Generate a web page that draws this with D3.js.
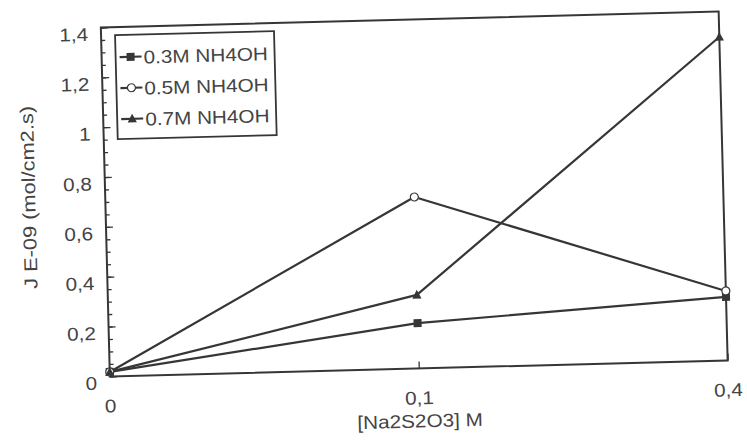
<!DOCTYPE html>
<html>
<head>
<meta charset="utf-8">
<script src="https://cdn.jsdelivr.net/npm/d3@7"></script>
<style>
  html, body { margin: 0; padding: 0; background: #ffffff; }
  svg { display: block; }
  text { font-family: "Liberation Sans", Arial, Helvetica, sans-serif; fill: #444444; }
</style>
</head>
<body>
<svg id="chart" width="747" height="442"></svg>
<script>
// Sodium thiosulfate concentration (categories on the x axis)
const concentrations = [0, 0.1, 0.4];
const xTickLabels = ["0", "0,1", "0,4"];

// Flux J (x 1E-09 mol/cm2.s) for each ammonia concentration
const series03 = [0.018, 0.182, 0.255];
const series05 = [0.018, 0.688, 0.279];
const series07 = [0.018, 0.295, 1.298];

const seriesNames = ["0.3M NH4OH", "0.5M NH4OH", "0.7M NH4OH"];
const seriesMarkers = ["square", "circle", "triangle"];

const yMajorTicks = [0, 0.2, 0.4, 0.6, 0.8, 1, 1.2, 1.4];
const yMinorTicks = d3.range(0, 29).map(i => i * 0.05);

const xTitle = "[Na2S2O3] M";
const yTitle = "J E-09 (mol/cm2.s)";

// layout
const plot = { left: 105.25, top: 19.5, width: 618, height: 349 };
const tilt = -1.48;               // the whole figure sits slightly askew
const cx = plot.left + plot.width / 2, cy = plot.top + plot.height / 2;
const ink = "#363636";
const fontSize = 18.5;
const stretch = 1.12;             // wide lettering

const svg = d3.select("#chart");
const g = svg.append("g").attr("transform", `rotate(${tilt},${cx},${cy})`);

const x = d3.scalePoint().domain(concentrations).range([plot.left, plot.left + plot.width]).padding(0);
const y = d3.scaleLinear().domain([0, 1.4]).range([plot.top + plot.height, plot.top]);

// frame
g.append("rect")
  .attr("x", plot.left).attr("y", plot.top)
  .attr("width", plot.width).attr("height", plot.height)
  .attr("fill", "none").attr("stroke", ink).attr("stroke-width", 2);

// y axis ticks (pointing into the plot)
const yMinor = g.append("g").attr("transform", `translate(${plot.left},0)`)
  .call(d3.axisLeft(y).tickValues(yMinorTicks).tickSize(-4).tickFormat(""));
const yMajor = g.append("g").attr("transform", `translate(${plot.left},0)`)
  .call(d3.axisLeft(y).tickValues(yMajorTicks).tickSize(-7).tickFormat(""));
[yMinor, yMajor].forEach(ax => {
  ax.select(".domain").remove();
  ax.selectAll("line").attr("stroke", ink).attr("stroke-width", 1.3);
});

// x axis ticks
const xAxis = g.append("g").attr("transform", `translate(0,${plot.top + plot.height})`)
  .call(d3.axisBottom(x).tickSize(-7).tickFormat(""));
xAxis.select(".domain").remove();
xAxis.selectAll("line").attr("stroke", ink).attr("stroke-width", 1.3);

const fmt = d => d3.format("~g")(d).replace(".", ",");

// y tick labels
g.append("g").selectAll("text").data(yMajorTicks).join("text")
  .attr("transform", d => `translate(${plot.left - 13},${y(d) + 13}) scale(${stretch},1)`)
  .attr("text-anchor", "end")
  .attr("font-size", fontSize)
  .text(fmt);

// x tick labels
g.append("g").selectAll("text").data(concentrations).join("text")
  .attr("transform", (d) => `translate(${x(d)},${plot.top + plot.height + 36}) scale(${stretch},1)`)
  .attr("text-anchor", "middle")
  .attr("font-size", fontSize)
  .text((d, i) => xTickLabels[i]);

// axis titles
g.append("text")
  .attr("transform", `translate(${cx},${plot.top + plot.height + 59}) scale(${stretch},1)`)
  .attr("text-anchor", "middle").attr("font-size", fontSize)
  .text(xTitle);

g.append("text")
  .attr("transform", `translate(${plot.left - 70},${plot.top + 168}) rotate(-90) scale(1.18,1)`)
  .attr("text-anchor", "middle").attr("font-size", fontSize)
  .text(yTitle);

// markers
function drawMarker(sel, type, size) {
  if (type === "square") {
    sel.append("rect").attr("x", -size / 2).attr("y", -size / 2)
      .attr("width", size).attr("height", size).attr("fill", ink);
  } else if (type === "circle") {
    sel.append("circle").attr("r", size / 2).attr("fill", "#fff")
      .attr("stroke", ink).attr("stroke-width", 1.2);
  } else {
    const s = size * 1.15;
    sel.append("path")
      .attr("d", `M0,${-s * 0.55}L${s / 2},${s * 0.4}L${-s / 2},${s * 0.4}Z`)
      .attr("fill", ink);
  }
}

const allSeries = [series03, series05, series07];
const line = d3.line().x((d, i) => x(concentrations[i])).y(d => y(d));

allSeries.forEach((vals) => {
  g.append("path").datum(vals)
    .attr("d", line)
    .attr("fill", "none").attr("stroke", ink).attr("stroke-width", 2.2)
    .attr("stroke-linejoin", "round");
});
allSeries.forEach((vals, si) => {
  g.append("g").selectAll("g").data(vals).join("g")
    .attr("transform", (d, i) => `translate(${x(concentrations[i])},${y(d)})`)
    .each(function () { drawMarker(d3.select(this), seriesMarkers[si], 8); });
});

// legend
const legend = g.append("g").attr("transform", `translate(${plot.left + 14},${plot.top + 8})`);
legend.append("rect").attr("width", 159).attr("height", 104)
  .attr("fill", "#fff").attr("stroke", ink).attr("stroke-width", 1.8);
const rows = legend.selectAll("g.row").data(seriesNames).join("g")
  .attr("class", "row")
  .attr("transform", (d, i) => `translate(0,${22 + i * 31})`);
rows.append("line").attr("x1", 4).attr("x2", 26)
  .attr("stroke", ink).attr("stroke-width", 2.2);
rows.each(function (d, i) {
  const m = d3.select(this).append("g").attr("transform", "translate(15,0)");
  drawMarker(m, seriesMarkers[i], 8);
});
rows.append("text")
  .attr("transform", `translate(28,7) scale(${stretch},1)`)
  .attr("font-size", fontSize)
  .text(d => d);
</script>
</body>
</html>
